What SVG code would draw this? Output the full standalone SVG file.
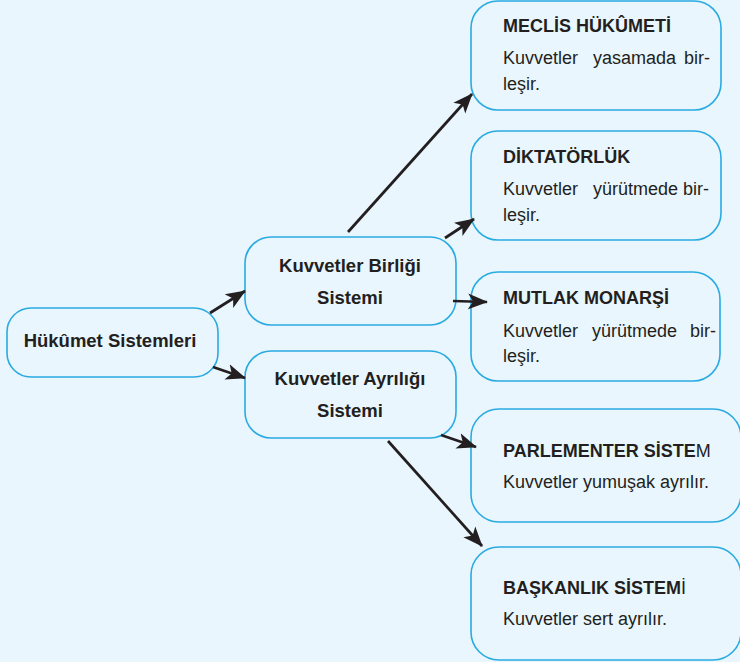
<svg xmlns="http://www.w3.org/2000/svg" width="740" height="662" viewBox="0 0 740 662">
<defs>
<style>
.box{fill:#e9f6fd;stroke:#29abe2;stroke-width:1.6}
.t{font-family:"Liberation Sans",Arial,sans-serif;font-size:18px;fill:#231f20}
.b{font-weight:bold}
.h{font-size:18.5px}
.c{text-anchor:middle}
.e{text-anchor:end}
.ln{stroke:#231f20;stroke-width:2.7;fill:none;marker-end:url(#ah)}
</style>
<marker id="ah" markerUnits="userSpaceOnUse" markerWidth="22" markerHeight="18" refX="19" refY="8" orient="auto" viewBox="0 0 22 16">
<path d="M0,0 L20,8 L0,16 L5,8 z" fill="#231f20"/>
</marker>
</defs>
<rect x="0" y="0" width="740" height="662" fill="#e9f6fd"/>
<g id="hukumet">
<rect class="box" x="7" y="308" width="211" height="69" rx="24"/>
<text class="t b c h" x="110" y="347">Hükûmet Sistemleri</text>
</g>
<g id="birlik">
<rect class="box" x="245" y="237" width="211" height="88" rx="26"/>
<text class="t b c h" x="350" y="272">Kuvvetler Birliği</text>
<text class="t b c h" x="350" y="304">Sistemi</text>
</g>
<g id="ayrilik">
<rect class="box" x="245" y="351" width="211" height="87" rx="26"/>
<text class="t b c h" x="350" y="385">Kuvvetler Ayrılığı</text>
<text class="t b c h" x="350" y="417">Sistemi</text>
</g>
<g id="meclis">
<rect class="box" x="471" y="1" width="250" height="109" rx="27"/>
<text class="t b" x="503" y="32">MECLİS HÜKÛMETİ</text>
<text class="t" x="503" y="64">Kuvvetler</text>
<text class="t" x="593" y="64">yasamada</text>
<text class="t e" x="710" y="64">bir-</text>
<text class="t" x="503" y="90">leşir.</text>
</g>
<g id="diktatorluk">
<rect class="box" x="471" y="131" width="250" height="109" rx="27"/>
<text class="t b" x="503" y="163">DİKTATÖRLÜK</text>
<text class="t" x="503" y="195">Kuvvetler</text>
<text class="t" x="593" y="195">yürütmede</text>
<text class="t e" x="709" y="195">bir-</text>
<text class="t" x="503" y="221">leşir.</text>
</g>
<g id="monarsi">
<rect class="box" x="471" y="272" width="249" height="109" rx="27"/>
<text class="t b" x="503" y="304">MUTLAK MONARŞİ</text>
<text class="t" x="503" y="337">Kuvvetler</text>
<text class="t" x="592" y="337">yürütmede</text>
<text class="t e" x="716" y="337">bir-</text>
<text class="t" x="503" y="362">leşir.</text>
</g>
<g id="parlementer">
<rect class="box" x="471" y="409" width="270" height="113" rx="28"/>
<text class="t" x="503" y="457"><tspan class="b">PARLEMENTER SİSTE</tspan>M</text>
<text class="t" x="503" y="488">Kuvvetler yumuşak ayrılır.</text>
</g>
<g id="baskanlik">
<rect class="box" x="471" y="547" width="270" height="113" rx="28"/>
<text class="t" x="503" y="594"><tspan class="b">BAŞKANLIK SİSTEM</tspan>İ</text>
<text class="t" x="503" y="625">Kuvvetler sert ayrılır.</text>
</g>
<g id="connectors">
<line class="ln" x1="210" y1="313" x2="245" y2="291"/>
<line class="ln" x1="213" y1="367" x2="245" y2="378"/>
<line class="ln" x1="348" y1="232" x2="472" y2="94"/>
<line class="ln" x1="445" y1="238" x2="474" y2="219"/>
<line class="ln" x1="453" y1="301" x2="487" y2="302"/>
<line class="ln" x1="441" y1="435" x2="476" y2="447"/>
<line class="ln" x1="388" y1="441" x2="482" y2="546"/>
</g>
</svg>
